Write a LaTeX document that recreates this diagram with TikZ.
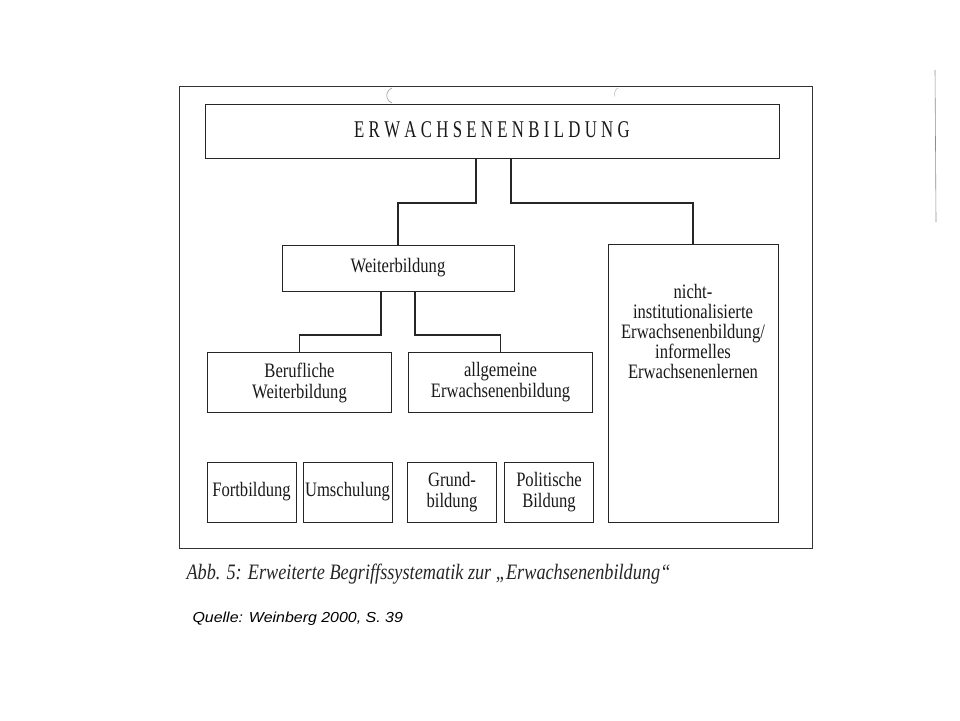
\documentclass[tikz,border=0pt]{standalone}
\usepackage{fontspec}
\setmainfont{Liberation Serif}[FakeStretch=0.81]
\newfontfamily\titlefont{Liberation Serif}[FakeStretch=0.7]
\newfontfamily\capfont{Liberation Serif}[FakeStretch=0.83]
\newfontfamily\handfont{Liberation Sans}[FakeStretch=1.1]
\newcommand\tsp{\hspace{4.3pt}}
\begin{document}
\begin{tikzpicture}[x=1pt,y=-1pt,
  box/.style={draw=black!85,line width=1pt,inner sep=0pt},
  lbl/.style={font=\fontsize{20.5}{21}\selectfont,align=center,text=black!90},
  link/.style={draw=black!85,line width=1.3pt}]
\useasboundingbox (0,0) rectangle (960,720);
% outer frame
\draw[draw=black!80,line width=1pt] (179,86) rectangle (812,548);
% scan artefacts
\draw[black!45,line width=0.6pt] (935,70) -- (936,222);
\draw[black!40,line width=0.6pt] (392,88) arc[start angle=110,end angle=250,radius=8pt];
\draw[black!30,line width=0.5pt] (618,88) arc[start angle=120,end angle=200,radius=7pt];
% nodes
\node[box,minimum width=574pt,minimum height=54pt] (eb) at (492,131) {};
\node[font=\titlefont\fontsize{24}{26}\selectfont,text=black!90] (ebt) at (492,130)
  {E\tsp R\tsp W\tsp A\tsp C\tsp H\tsp S\tsp E\tsp N\tsp E\tsp N\tsp B\tsp I\tsp L\tsp D\tsp U\tsp N\tsp G};
\node[box,lbl,minimum width=232pt,minimum height=46pt] (wb) at (398,268) {Weiterbildung};
\node[box,minimum width=170pt,minimum height=278pt] (ni) at (693,383) {};
\node[lbl,font=\fontsize{20.5}{20}\selectfont] (nit) at (693,331) {nicht-\\institutionalisierte\\Erwachsenenbildung/\\informelles\\Erwachsenenlernen};
\node[box,lbl,minimum width=184pt,minimum height=60pt] (bw) at (299.5,382.5) {Berufliche\\Weiterbildung};
\node[box,lbl,minimum width=184pt,minimum height=60pt] (ae) at (500.5,382.5) {allgemeine\\Erwachsenenbildung};
\node[box,lbl,minimum width=89pt,minimum height=60pt] (fb) at (251.5,492) {Fortbildung};
\node[box,lbl,minimum width=89pt,minimum height=60pt] (us) at (347.5,492) {Umschulung};
\node[box,lbl,minimum width=89pt,minimum height=60pt] (gb) at (452,492) {Grund-\\bildung};
\node[box,lbl,minimum width=89pt,minimum height=60pt] (pb) at (549,492) {Politische\\Bildung};
% connectors
\coordinate (j1) at (476,203);
\coordinate (j2) at (511,203);
\draw[link] (eb.south -| j1) -- (j1) -- (j1 -| wb.north) -- (wb.north);
\draw[link] (eb.south -| j2) -- (j2) -- (j2 -| ni.north) -- (ni.north);
\coordinate (k1) at (381,335);
\coordinate (k2) at (415,335);
\draw[link] (wb.south -| k1) -- (k1) -- (k1 -| bw.north) -- (bw.north);
\draw[link] (wb.south -| k2) -- (k2) -- (k2 -| ae.north) -- (ae.north);
% caption
\node[anchor=base west,font=\capfont\fontsize{22}{24}\itshape\selectfont,text=black!85] (cap) at (183,579)
  {Abb. 5: Erweiterte Begriffssystematik zur „Erwachsenenbildung“};
\node[anchor=base west,font=\handfont\fontsize{14.5}{16}\itshape\selectfont] (src) at (189,622)
  {Quelle: Weinberg 2000, S. 39};
\end{tikzpicture}
\end{document}
